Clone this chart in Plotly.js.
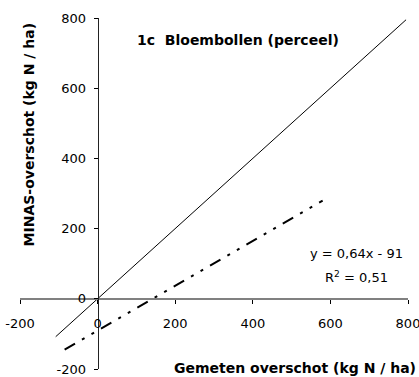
<!DOCTYPE html>
<html>
<head>
<meta charset="utf-8">
<script src="https://cdn.plot.ly/plotly-3.0.1.min.js"></script>
<style>html,body{margin:0;padding:0;background:#fff;}#chart{width:419px;height:377px;}</style>
</head>
<body>
<div id="chart"></div>
<script>
// 1:1 reference line
const lineX = [-108, 795];
const lineY = [-108, 795];
// regression line y = 0,64x - 91
const fitX = [-85, 580];
const fitY = [-145, 280];
// ticks
const tickVals = [-200, 0, 200, 400, 600, 800];
const tickText = ["-200", "0", "200", "400", "600", "800"];
const chartTitle = "1c  Bloembollen (perceel)";
const xTitle = "Gemeten overschot (kg N / ha)";
const yTitle = "MINAS-overschot (kg N / ha)";
const eqText = "y = 0,64x - 91";
const r2Text = "R<sup>2</sup> = 0,51";

const FONT = "DejaVu Sans, Liberation Sans, Arial, sans-serif";

const traces = [
  {x: lineX, y: lineY, mode: "lines", line: {color: "#000", width: 1}, hoverinfo: "skip"},
  {x: fitX, y: fitY, mode: "lines", line: {color: "#000", width: 2, dash: "12px,8px,3px,8px,3px,8px"}, hoverinfo: "skip"}
];

const layout = {
  width: 419, height: 377,
  margin: {l: 20, r: 11, t: 18, b: 8, pad: 0},
  paper_bgcolor: "#fff", plot_bgcolor: "#fff",
  showlegend: false,
  font: {family: FONT, size: 13, color: "#000"},
  xaxis: {
    range: [-200, 800], anchor: "free", position: 0.2,
    showgrid: false, zeroline: false,
    showline: true, linecolor: "#808080", linewidth: 2,
    ticks: "outside", ticklen: 4, tickcolor: "#000", tickwidth: 1,
    tickvals: tickVals, ticktext: tickText,
    ticklabelstandoff: 9, ticklabeloverflow: "allow",
    tickfont: {family: FONT, size: 13, color: "#000"}
  },
  yaxis: {
    range: [-200, 800], anchor: "free", position: 0.2,
    showgrid: false, zeroline: false,
    showline: true, linecolor: "#222", linewidth: 1,
    ticks: "outside", ticklen: 4, tickcolor: "#000", tickwidth: 1,
    tickvals: tickVals, ticktext: tickText,
    ticklabelstandoff: 5, ticklabeloverflow: "allow",
    tickfont: {family: FONT, size: 13, color: "#000"}
  },
  annotations: [
    {text: "<b>" + chartTitle + "</b>", xref: "x", yref: "y", x: 361, y: 738, showarrow: false,
     xanchor: "center", yanchor: "middle", font: {family: FONT, size: 14, color: "#000"}},
    {text: "<b>" + xTitle + "</b>", xref: "paper", yref: "paper", x: 1.0258, y: 0.003, showarrow: false,
     xanchor: "right", yanchor: "middle", font: {family: FONT, size: 14, color: "#000"}},
    {text: "<b>" + yTitle + "</b>", xref: "x", yref: "y", x: -178, y: 467, showarrow: false,
     textangle: -90, xanchor: "center", yanchor: "middle", font: {family: FONT, size: 14, color: "#000"}},
    {text: eqText, xref: "x", yref: "y", x: 666, y: 130, showarrow: false,
     xanchor: "center", yanchor: "middle", font: {family: FONT, size: 13, color: "#000"}},
    {text: r2Text, xref: "x", yref: "y", x: 666, y: 62, showarrow: false,
     xanchor: "center", yanchor: "middle", font: {family: FONT, size: 13, color: "#000"}}
  ]
};

Plotly.newPlot("chart", traces, layout, {staticPlot: true, displayModeBar: false});
</script>
</body>
</html>
